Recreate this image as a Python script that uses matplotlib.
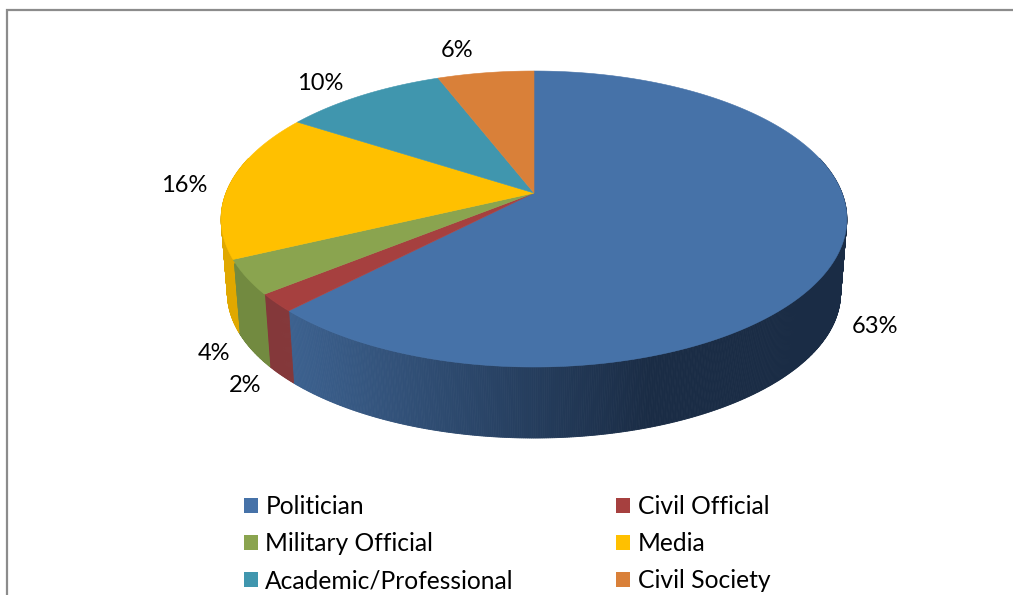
import numpy as np
import matplotlib
matplotlib.use('Agg')
import matplotlib.pyplot as plt
from matplotlib.patches import Patch

plt.rcParams['font.family'] = ['Lato', 'DejaVu Sans']

categories = ['Politician', 'Civil Official', 'Military Official', 'Media', 'Academic/Professional', 'Civil Society']
values = [62.25, 1.95, 3.75, 16.15, 10.0, 5.9]
labels = ['63%', '2%', '4%', '16%', '10%', '6%']
top_colors = ['#4672A8', '#A6403F', '#8AA44F', '#FFC000', '#4096AE', '#D98039']
side_left = ['#3C618F', '#84383A', '#728A40', '#E0A800', '#357F94', '#B86A2C']
side_right = ['#1A2C45', '#84383A', '#6D843C', '#E0A800', '#357F94', '#B86A2C']
label_pos = [(875, 326.5), (245, 385.5), (214, 353.5), (184, 185.5), (320, 83.5), (457, 50.5)]

# pie geometry in pixels, the ellipse is a circle seen in perspective
cx, cy = 534, 219
R, A, B, C = 308, 148, 26, 0.1757
depth = 74
shrink = 0.98


def project(theta):
    s = 1 + C * np.sin(theta)
    return cx + R * np.cos(theta) / s, cy - (A * np.sin(theta) + B) / s


fig = plt.figure(figsize=(10.13, 5.95), dpi=100)
ax = fig.add_axes([0, 0, 1, 1])
ax.set_xlim(0, 1013)
ax.set_ylim(595, 0)
ax.axis('off')

# frame of the screenshot
ax.plot([6.5, 6.5, 1013], [595, 9.5, 9.5], color='#8C8C8C', lw=1.6, solid_joinstyle='miter')

total = sum(values)
edges = np.pi / 2 - 2 * np.pi * np.cumsum([0] + values) / total

# outer wall, strips going along the arc, top face is drawn over it afterwards
for i in range(len(values)):
    th = np.linspace(edges[i], edges[i + 1], int(values[i] * 12) + 3)
    for t0, t1 in zip(th[:-1], th[1:]):
        tm = (t0 + t1) / 2
        if np.sin(tm) > 0.25:
            continue
        x0, y0 = project(t0)
        x1, y1 = project(t1)
        bx0, by0 = cx + (x0 - cx) * shrink, cy + (y0 - cy) * shrink + depth
        bx1, by1 = cx + (x1 - cx) * shrink, cy + (y1 - cy) * shrink + depth
        f = np.clip(((x0 + x1) / 2 - 290) / 360, 0, 1)
        c0 = np.array(matplotlib.colors.to_rgb(side_left[i]))
        c1 = np.array(matplotlib.colors.to_rgb(side_right[i]))
        col = c0 + (c1 - c0) * f
        ax.fill([x0, x1, bx1, bx0], [y0, y1, by1, by0], color=col, lw=0.6)

# top face
apex_x, apex_y = cx, cy - B
for i in range(len(values)):
    th = np.linspace(edges[i], edges[i + 1], 200)
    x, y = project(th)
    ax.fill(np.r_[apex_x, x], np.r_[apex_y, y], color=top_colors[i], lw=0.4)

for (lx, ly), txt in zip(label_pos, labels):
    ax.text(lx, ly, txt, fontsize=17, color='black', ha='center', va='center')

order = [0, 2, 4, 1, 3, 5]
handles = [Patch(facecolor=top_colors[i], label=categories[i]) for i in order]
ax.legend(handles=handles, ncols=2, frameon=False, fontsize=17.7,
          loc='upper left', bbox_to_anchor=(0.2409, 0.168), borderaxespad=0, borderpad=0,
          handlelength=0.57, handleheight=0.57, handletextpad=0.3,
          columnspacing=4.16, labelspacing=0.575)

fig.savefig('out.png', dpi=100)
